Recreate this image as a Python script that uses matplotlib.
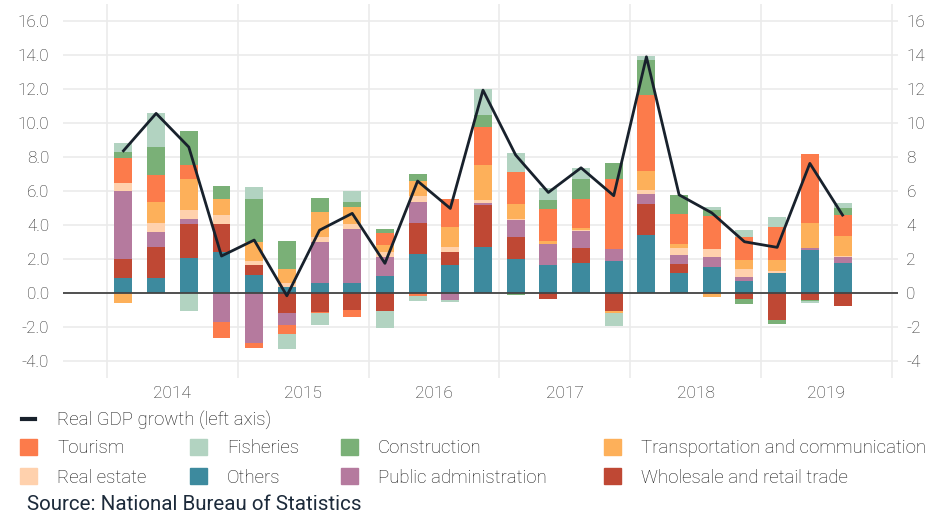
import numpy as np
import matplotlib.pyplot as plt
from matplotlib.patches import Patch
from matplotlib.lines import Line2D

plt.rcParams['font.family'] = ['Roboto', 'DejaVu Sans']
plt.rcParams['font.weight'] = 'light'

# data: quarterly contributions to real GDP growth, 2014Q1 - 2019Q3
years = ['2014', '2015', '2016', '2017', '2018', '2019']
quarters = [f'{y}Q{q}' for y in years for q in range(1, 5)][:23]

gdp = [8.37, 10.57, 8.59, 2.18, 3.12, -0.16, 3.70, 4.69, 1.75, 6.59, 4.98, 11.94,
       8.12, 5.92, 7.37, 5.73, 13.90, 5.78, 4.72, 3.02, 2.69, 7.63, 4.59]

others = [0.90, 0.90, 2.06, 2.43, 1.06, 0.37, 0.61, 0.61, 1.02, 2.31, 1.63, 2.73,
          2.02, 1.67, 1.78, 1.86, 3.39, 1.20, 1.51, 0.74, 1.16, 2.51, 1.75]
wholesale = [1.10, 1.82, 2.00, 1.63, 0.59, -1.16, -1.10, -0.98, -1.04, 1.82, 0.80, 2.47,
             1.29, -0.33, 0.88, -1.08, 1.88, 0.49, 0.00, -0.32, -1.57, -0.43, -0.78]
public_admin = [4.00, 0.86, 0.29, -1.69, -2.94, -0.71, 2.41, 3.18, 1.12, 1.24, -0.43, 0.12,
                1.00, 1.24, 1.00, 0.71, 0.53, 0.53, 0.59, 0.19, 0.00, 0.12, 0.35]
real_estate = [0.50, 0.55, 0.53, 0.53, 0.24, 0.24, 0.29, 0.29, 0.29, 0.35, 0.29, 0.18,
               0.06, 0.00, 0.06, 0.00, 0.24, 0.41, 0.47, 0.47, 0.12, 0.00, 0.06]
transport = [-0.57, 1.24, 1.82, 0.94, 1.12, 0.82, 1.47, 1.00, 0.41, 0.88, 1.18, 2.06,
             0.88, 0.18, 0.12, -0.12, 1.12, 0.24, -0.25, 0.53, 0.65, 1.47, 1.18]
tourism = [1.43, 1.57, 0.82, -0.94, -0.29, -0.53, -0.06, -0.41, 0.71, -0.20, 1.65, 2.20,
           1.88, 1.88, 1.71, 4.16, 4.47, 1.76, 1.94, 1.35, 1.94, 4.10, 1.27]
construction = [0.35, 1.65, 2.00, 0.76, 2.53, 1.65, 0.82, 0.29, 0.24, 0.41, 0.00, 0.71,
                -0.14, 0.53, 1.18, 0.94, 2.06, 1.12, 0.35, -0.34, -0.22, -0.06, 0.41]
fisheries = [0.57, 2.00, -1.04, 0.00, 0.71, -0.88, -0.71, 0.65, -1.00, -0.24, -0.12, 1.51,
             1.12, 0.71, 0.65, -0.76, 0.24, 0.00, 0.18, 0.46, 0.59, -0.12, 0.29]

# stacking order (bottom -> top)
series = [
    ('Others', others, '#3d8a9e'),
    ('Wholesale and retail trade', wholesale, '#bf4834'),
    ('Public administration', public_admin, '#b57a9e'),
    ('Real estate', real_estate, '#ffd1ad'),
    ('Transportation and communication', transport, '#fdb05a'),
    ('Tourism', tourism, '#fc7b4b'),
    ('Construction', construction, '#7ab077'),
    ('Fisheries', fisheries, '#b2d3c1'),
]

fig = plt.figure(figsize=(9.3, 5.13), dpi=100)
ax = fig.add_axes([0.0677, 0.263, 0.898, 0.729])

x = np.arange(len(quarters))
pos_base = np.zeros(len(x))
neg_base = np.zeros(len(x))
for name, vals, col in series:
    v = np.array(vals)
    bottom = np.where(v >= 0, pos_base, neg_base)
    ax.bar(x, v, 0.55, bottom=bottom, color=col, zorder=2, linewidth=0)
    pos_base += np.clip(v, 0, None)
    neg_base += np.clip(v, None, 0)

ax.plot(x, gdp, color='#18212c', lw=2.0, zorder=4)
ax.axhline(0, color='#444444', lw=1.3, zorder=3)

ax.set_xlim(-1.85, 23.7)
ax.set_ylim(-5.0, 17.0)
yt = np.arange(-4, 17, 2)
ax.set_yticks(yt)
ax.set_yticklabels([f'{v:.1f}' for v in yt])
ax.grid(axis='y', color='#ebebeb', lw=1.2, zorder=0)

# year boundaries as vertical grid, year names centred
ax.set_xticks(np.arange(-0.5, 24, 4))
ax.set_xticklabels([])
ax.set_xticks(np.arange(1.5, 24, 4), minor=True)
ax.set_xticklabels(years, minor=True)
ax.grid(axis='x', which='major', color='#ebebeb', lw=1.2, zorder=0)
ax.tick_params(axis='x', which='both', length=0, pad=6, labelsize=12.5, labelcolor='#2a2a2a')
ax.tick_params(axis='y', length=0, pad=10, labelsize=12.3, labelcolor='#2a2a2a')
for s in ax.spines.values():
    s.set_visible(False)

ax2 = ax.twinx()
ax2.set_ylim(ax.get_ylim())
ax2.set_yticks(yt)
ax2.set_yticklabels([f'{v:d}' for v in yt])
ax2.tick_params(axis='y', length=0, pad=6, labelsize=12.3, labelcolor='#2a2a2a')
for s in ax2.spines.values():
    s.set_visible(False)

# legend
colors = {n: c for n, _, c in series}
leg_kw = dict(frameon=False, fontsize=13.4, handleheight=0.92,
              labelspacing=0.6, borderpad=0, borderaxespad=0,
              loc='upper left', bbox_transform=fig.transFigure, labelcolor='#151515')
fig.legend([Line2D([], [], color='#18212c', lw=3)], ['Real GDP growth (left axis)'],
           bbox_to_anchor=(22 / 930, 1 - 411 / 513), handlelength=0.7,
           handletextpad=1.2, **leg_kw)
columns = [('Tourism', 'Real estate', 20), ('Fisheries', 'Others', 190),
           ('Construction', 'Public administration', 341),
           ('Transportation and communication', 'Wholesale and retail trade', 604)]
for a, b, px in columns:
    fig.legend([Patch(color=colors[a]), Patch(color=colors[b])], [a, b],
               bbox_to_anchor=(px / 930, 1 - 439 / 513), handlelength=0.92,
               handletextpad=1.08, **leg_kw)

fig.text(27 / 930, 1 - 505 / 513, 'Source: National Bureau of Statistics',
         fontsize=14.8, fontweight='normal', color='#1c2a3a', va='center', ha='left')

fig.savefig('out.png', dpi=100)
